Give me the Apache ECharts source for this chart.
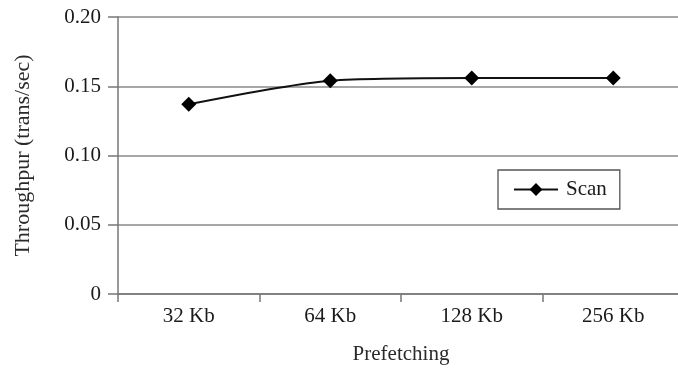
<!DOCTYPE html>
<html>
<head>
<meta charset="utf-8">
<script src="https://cdn.jsdelivr.net/npm/echarts@6/dist/echarts.min.js"></script>
<style>
  html, body { margin: 0; padding: 0; background: #fff; }
  #chart { width: 678px; height: 370px; }
</style>
</head>
<body>
<div id="chart"></div>
<script>
// Prefetching block sizes on the x axis
const categories = ['32 Kb', '64 Kb', '128 Kb', '256 Kb'];
// Scan throughput in transactions per second
const scanValues = [0.137, 0.154, 0.156, 0.156];
// Value axis ticks
const yTicks = [0, 0.05, 0.10, 0.15, 0.20];

const serif = '"Liberation Serif", "DejaVu Serif", serif';
const chart = echarts.init(document.getElementById('chart'));

chart.setOption({
  backgroundColor: '#fff',
  animation: false,
  grid: {
    left: 118, width: 566, top: 17, height: 277,
    containLabel: false, outerBoundsMode: 'none'
  },
  legend: {
    data: ['Scan'],
    left: 498,
    top: 170,
    orient: 'vertical',
    padding: [9, 13, 9, 15],
    itemWidth: 44,
    itemHeight: 16,
    itemGap: 0,
    borderColor: '#555',
    borderWidth: 1.3,
    textStyle: { fontFamily: serif, fontSize: 21, color: '#1a1a1a', padding: [0, 0, 0, 3] }
  },
  xAxis: {
    type: 'category',
    data: categories,
    boundaryGap: true,
    name: 'Prefetching',
    nameLocation: 'middle',
    nameGap: 50,
    nameTextStyle: { fontFamily: serif, fontSize: 21, color: '#2a2a2a' },
    axisLine: { show: true, lineStyle: { color: '#777', width: 1.5 } },
    axisTick: { show: true, length: 8, lineStyle: { color: '#777', width: 1.5 } },
    axisLabel: { fontFamily: serif, fontSize: 21, color: '#1a1a1a', margin: 12 },
    splitLine: { show: false }
  },
  yAxis: {
    type: 'value',
    min: yTicks[0],
    max: yTicks[yTicks.length - 1],
    interval: 0.05,
    name: 'Throughpur (trans/sec)',
    nameLocation: 'middle',
    nameGap: 84,
    nameRotate: 90,
    nameTextStyle: { fontFamily: serif, fontSize: 22, color: '#2a2a2a' },
    axisLine: { show: true, lineStyle: { color: '#777', width: 1.5 } },
    axisTick: { show: true, length: 10, lineStyle: { color: '#777', width: 1.5 } },
    axisLabel: {
      fontFamily: serif, fontSize: 21, color: '#1a1a1a', margin: 17,
      formatter: v => (v === 0 ? '0' : v.toFixed(2))
    },
    splitLine: { show: true, lineStyle: { color: '#8a8a8a', width: 1.5 } }
  },
  series: [{
    name: 'Scan',
    type: 'line',
    data: scanValues,
    smooth: 0.25,
    symbol: 'diamond',
    symbolSize: 15,
    itemStyle: { color: '#000' },
    lineStyle: { color: '#111', width: 2 }
  }]
});
</script>
</body>
</html>
